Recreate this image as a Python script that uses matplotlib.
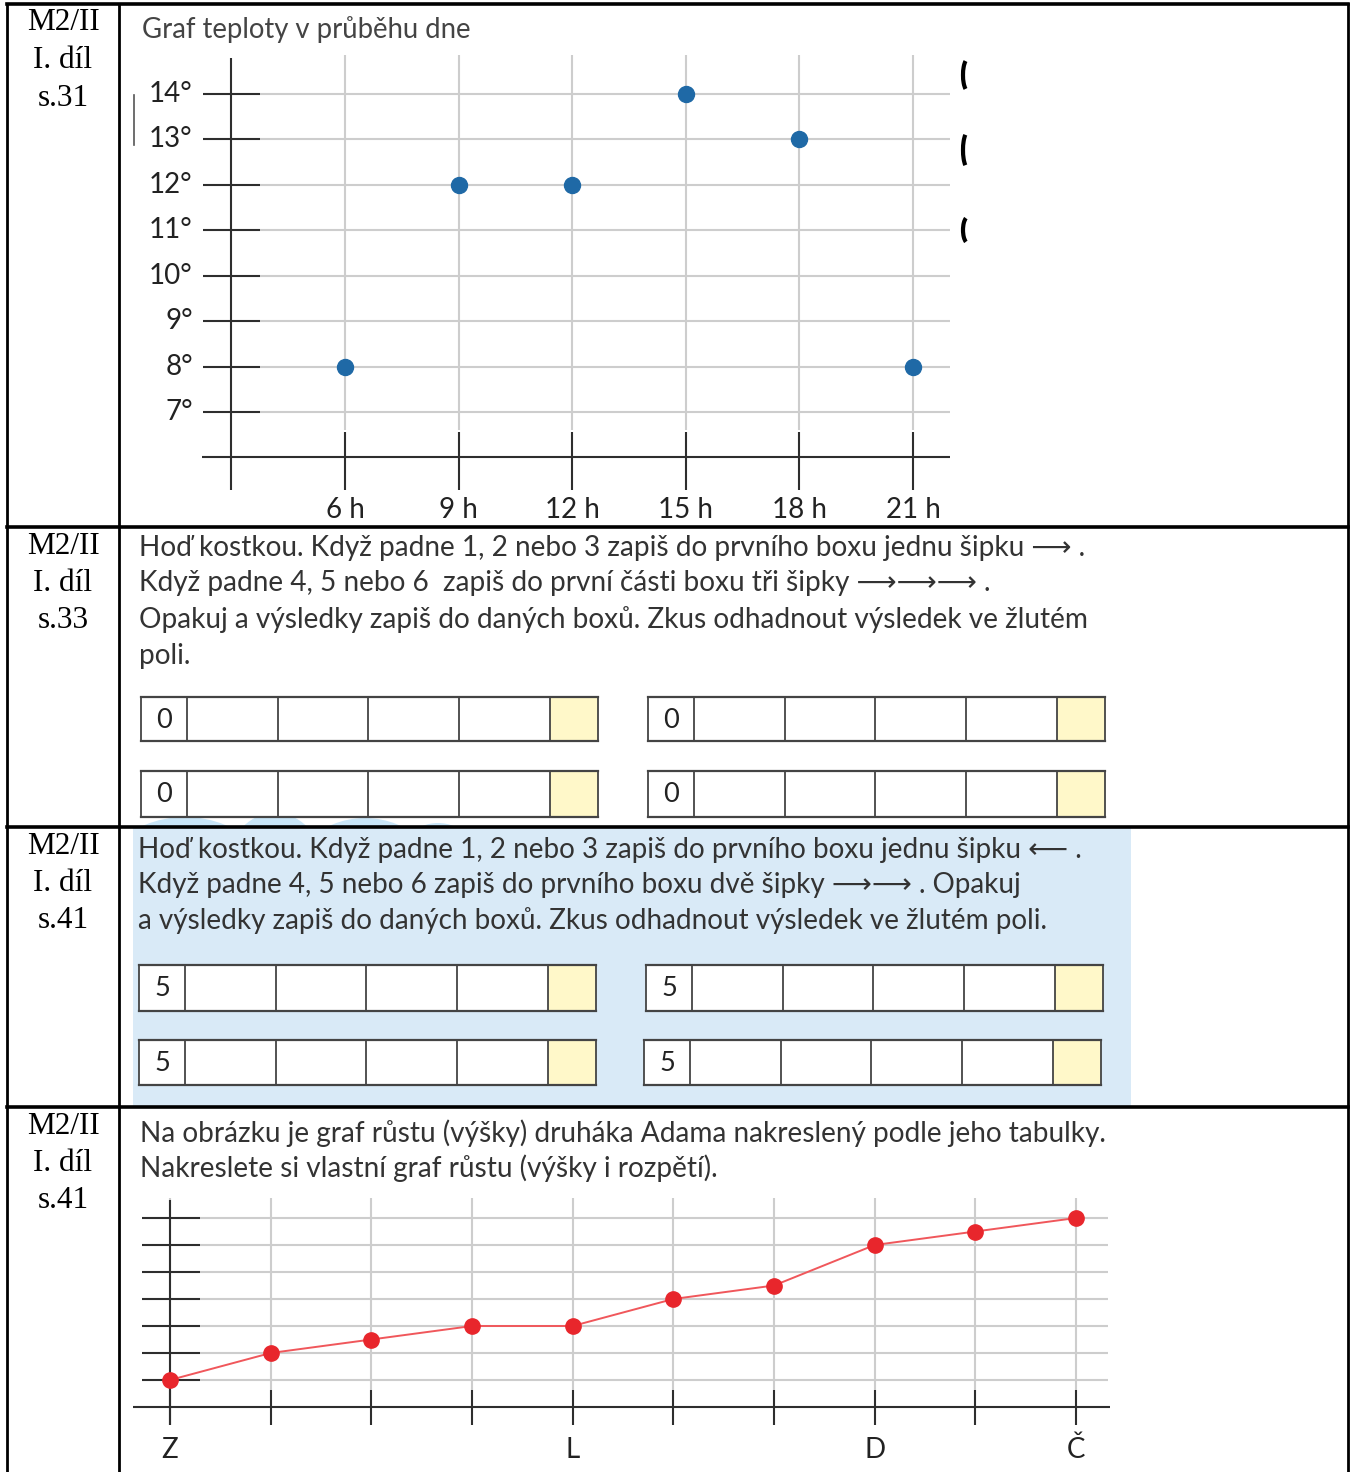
import matplotlib
matplotlib.use("Agg")
import matplotlib.pyplot as plt
from matplotlib.patches import Rectangle, Circle, Arc

W, H = 1351, 1472

# --- data ---
row_refs = [["M2/II", "I. díl", "s.31"], ["M2/II", "I. díl", "s.33"],
            ["M2/II", "I. díl", "s.41"], ["M2/II", "I. díl", "s.41"]]

hours = [6, 9, 12, 15, 18, 21]
hour_labels = ["6 h", "9 h", "12 h", "15 h", "18 h", "21 h"]
temps = [8, 12, 12, 14, 13, 8]
deg_ticks = [7, 8, 9, 10, 11, 12, 13, 14]

months = ["Z", "", "", "", "L", "", "", "D", "", "Č"]
growth = [0, 1, 1.5, 2, 2, 3, 3.5, 5, 5.5, 6]
growth_levels = [0, 1, 2, 3, 4, 5, 6]

start_p2 = [0, 0, 0, 0]
start_p3 = [5, 5, 5, 5]

title1 = "Graf teploty v průběhu dne"
text_p2 = ["Hoď kostkou. Když padne 1, 2 nebo 3 zapiš do prvního boxu jednu šipku ⟶ .",
           "Když padne 4, 5 nebo 6  zapiš do první části boxu tři šipky ⟶⟶⟶ .",
           "Opakuj a výsledky zapiš do daných boxů. Zkus odhadnout výsledek ve žlutém",
           "poli."]
text_p3 = ["Hoď kostkou. Když padne 1, 2 nebo 3 zapiš do prvního boxu jednu šipku ⟵ .",
           "Když padne 4, 5 nebo 6 zapiš do prvního boxu dvě šipky ⟶⟶ . Opakuj",
           "a výsledky zapiš do daných boxů. Zkus odhadnout výsledek ve žlutém poli."]
text_p4 = ["Na obrázku je graf růstu (výšky) druháka Adama nakreslený podle jeho tabulky.",
           "Nakreslete si vlastní graf růstu (výšky i rozpětí)."]

SANS = ["Lato", "DejaVu Sans"]
TXT = "#333333"
GRID = "#cdcdcd"
DARK = "#2e2e2e"
LAB = 20

fig = plt.figure(figsize=(W / 100, H / 100), dpi=100)
page = fig.add_axes([0, 0, 1, 1])
page.set_xlim(0, W)
page.set_ylim(H, 0)
page.axis("off")
rend = fig.canvas.get_renderer()


def px_axes(left, right, top, bottom, xa, ya):
    ax = fig.add_axes([left / W, 1 - bottom / H, (right - left) / W, (bottom - top) / H])
    (p1, v1), (p2, v2) = xa
    k = (v2 - v1) / (p2 - p1)
    ax.set_xlim(v1 + (left - p1) * k, v1 + (right - p1) * k)
    (q1, w1), (q2, w2) = ya
    m = (w2 - w1) / (q2 - q1)
    ax.set_ylim(w1 + (bottom - q1) * m, w1 + (top - q1) * m)
    ax.axis("off")
    ax.patch.set_alpha(0)
    return ax


def paragraph(lines, x, ys, width, color=TXT):
    ts = [page.text(x, y, s, fontsize=17, family=SANS, color=color,
                    ha="left", va="center") for s, y in zip(lines, ys)]
    w = ts[0].get_window_extent(rend).width
    for t in ts:
        t.set_fontsize(17 * width / w)


def boxes(x0, y0, y1, label):
    edges = [0, 46, 137, 227, 318, 409, 457]
    xs = [x0 + e for e in edges]
    page.add_patch(Rectangle((xs[0], y0), xs[-1] - xs[0], y1 - y0, facecolor="white",
                             edgecolor="none", zorder=2))
    page.add_patch(Rectangle((xs[5], y0), xs[6] - xs[5], y1 - y0, facecolor="#fff8c9",
                             edgecolor="none", zorder=2))
    page.plot([xs[0], xs[-1]], [y0, y0], color="#444444", lw=1.6, zorder=3)
    page.plot([xs[0], xs[-1]], [y1, y1], color="#444444", lw=1.6, zorder=3)
    page.vlines(xs, y0, y1, color="#444444", lw=1.3, zorder=3)
    page.text((xs[0] + xs[1]) / 2, (y0 + y1) / 2 + 1, str(label), fontsize=19.5, family=SANS,
              color="#222222", ha="center", va="center", zorder=4)


# --- panel 3 background and stray blue shapes ---
page.add_patch(Rectangle((133, 828), 998, 278, facecolor="#d9eaf7", edgecolor="none", zorder=0))
clip = Rectangle((120, 805), 1000, 22, transform=page.transData)
for cx, cy, r in [(185, 923, 106), (275, 857, 44), (365, 903, 85), (438, 865, 42)]:
    c = Circle((cx, cy), r, facecolor="#c9e6f8", edgecolor="none", zorder=0)
    page.add_patch(c)
    c.set_clip_path(clip)

# --- table grid ---
tlw = 2.0
page.plot([7, 7], [4, H], color="black", lw=tlw)
page.plot([1348, 1348], [4, H], color="black", lw=tlw)
page.plot([119, 119], [4, H], color="black", lw=tlw)
for y in [4, 527, 827, 1107]:
    page.plot([7, 1348], [y, y], color="black", lw=tlw + 0.6, zorder=5)

row_tops = [4, 527, 827, 1107]
for top, ref in zip(row_tops, row_refs):
    for i, s in enumerate(ref):
        page.text(63, top + 19 + i * 37.5, s, fontsize=22.5, family="Liberation Serif",
                  color="black", ha="center", va="center")

# --- panel 1: temperature chart ---
paragraph([title1], 142, [30], 328, color="#444444")
page.plot([134, 134], [95, 145], color="#555555", lw=1.2)
for cy, h in [(75, 32), (150, 36), (230, 26)]:
    page.add_patch(Arc((968, cy), 10, h, theta1=100, theta2=260, color="black", lw=3))

ax1 = px_axes(140, 960, 45, 530, ((345, 6), (913, 21)), ((94, 14), (412, 7)))
ax1.hlines(deg_ticks, 3.75, 21.98, color=GRID, lw=1.5)
ax1.vlines(hours, 6.6, 14.86, color=GRID, lw=1.5)
ax1.hlines(deg_ticks, 2.25, 3.75, color=DARK, lw=1.5)
ax1.vlines(hours, 5.28, 6.57, color=DARK, lw=1.5)
ax1.vlines(3, 5.28, 14.8, color=DARK, lw=1.5)
ax1.hlines(6, 2.22, 21.98, color=DARK, lw=1.5)
ax1.plot(hours, temps, "o", color="#1f69a6", markersize=11.5, zorder=5)
for d in deg_ticks:
    ax1.text(1.98, d, f"{d}°", fontsize=LAB, family=SANS, color="#222222",
             ha="right", va="center")
for hx, lab in zip(hours, hour_labels):
    ax1.text(hx, 4.84, lab, fontsize=LAB, family=SANS, color="#222222",
             ha="center", va="center")

# --- panel 2: boxes with 0 ---
paragraph(text_p2, 139, [548, 583, 620, 656], 944)
for (x0, y0, y1), v in zip([(141, 697, 741), (648, 697, 741), (141, 771, 817), (648, 771, 817)],
                           start_p2):
    boxes(x0, y0, y1, v)

# --- panel 3: boxes with 5 ---
paragraph(text_p3, 138, [850, 885, 921], 940)
for (x0, y0, y1), v in zip([(139, 965, 1011), (646, 965, 1011), (139, 1040, 1085), (644, 1040, 1085)],
                           start_p3):
    boxes(x0, y0, y1, v)

# --- panel 4: growth chart ---
paragraph(text_p4, 140, [1133, 1168], 965)
idx = list(range(len(growth)))
ax4 = px_axes(125, 1120, 1190, 1470, ((170, 0), (1076, 9)), ((1380, 0), (1218, 6)))
ax4.hlines(growth_levels, 0.3, 9.32, color=GRID, lw=1.5)
ax4.vlines(idx, -0.37, 6.74, color=GRID, lw=1.5)
ax4.hlines(growth_levels, -0.28, 0.3, color=DARK, lw=1.5)
ax4.vlines(idx, -1.67, -0.37, color=DARK, lw=1.5)
ax4.vlines(0, -1.67, 6.67, color=DARK, lw=1.5)
ax4.hlines(-1, -0.37, 9.34, color=DARK, lw=1.5)
ax4.plot(idx, growth, "-", color="#f0575b", lw=1.4, zorder=4)
ax4.plot(idx, growth, "o", color="#e8262c", markersize=11, zorder=5)
for i, lab in zip(idx, months):
    if lab:
        ax4.text(i, -2.59, lab, fontsize=LAB, family=SANS, color="#222222",
                 ha="center", va="center")

fig.savefig("out.png", dpi=100)
